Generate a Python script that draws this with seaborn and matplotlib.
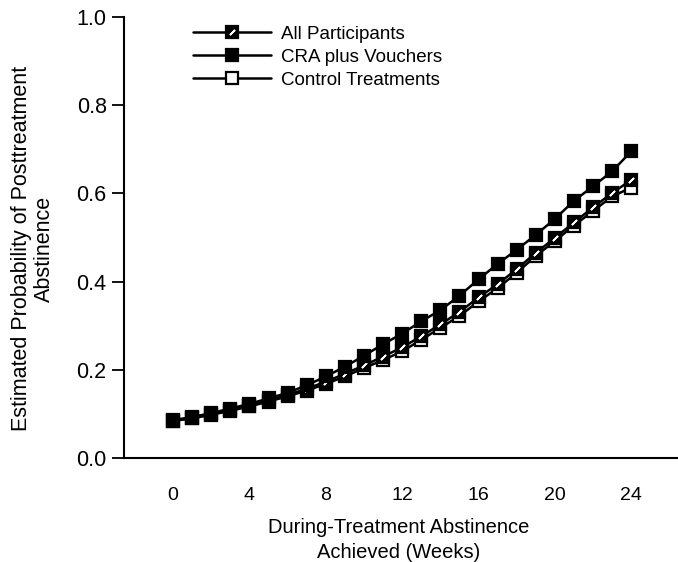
import numpy as np
import pandas as pd
import seaborn as sns
import matplotlib.pyplot as plt
from matplotlib.lines import Line2D

# weeks of during-treatment abstinence
weeks = list(range(0, 25))

# estimated probability of posttreatment abstinence
cra_vouchers = [0.086, 0.093, 0.102, 0.112, 0.123, 0.135, 0.148, 0.165, 0.185,
                0.207, 0.232, 0.258, 0.282, 0.310, 0.335, 0.368, 0.405, 0.440,
                0.472, 0.506, 0.542, 0.583, 0.616, 0.650, 0.695]
control = [0.084, 0.090, 0.098, 0.107, 0.117, 0.128, 0.140, 0.153, 0.168,
           0.185, 0.204, 0.222, 0.242, 0.268, 0.295, 0.322, 0.355, 0.385,
           0.420, 0.458, 0.492, 0.527, 0.560, 0.593, 0.613]
all_participants = [0.085, 0.091, 0.100, 0.109, 0.119, 0.130, 0.143, 0.157, 0.173,
                    0.191, 0.210, 0.230, 0.251, 0.276, 0.303, 0.331, 0.364, 0.394,
                    0.428, 0.465, 0.499, 0.534, 0.568, 0.601, 0.630]

labels = ["All Participants", "CRA plus Vouchers", "Control Treatments"]
xticks = [0, 4, 8, 12, 16, 20, 24]
yticks = [0.0, 0.2, 0.4, 0.6, 0.8, 1.0]

df = pd.DataFrame({"week": weeks, "cra": cra_vouchers, "ctrl": control, "all": all_participants})

sns.set_style("ticks")
plt.rcParams['font.family'] = ['Liberation Sans', 'DejaVu Sans']
plt.rcParams.update({"text.color": "black", "axes.labelcolor": "black",
                     "xtick.color": "black", "ytick.color": "black",
                     "axes.edgecolor": "black"})

fig = plt.figure(figsize=(6.78, 5.62), dpi=100)
ax = fig.add_axes([0.183, 0.185, 0.817, 0.785])

common = dict(color="black", linewidth=1.8, markersize=8.5, markeredgewidth=1.6,
              markeredgecolor="black", marker="s")

sns.lineplot(data=df, x="week", y="ctrl", ax=ax, markerfacecolor="white", zorder=3, **common)
sns.lineplot(data=df, x="week", y="all", ax=ax, markerfacecolor="black", zorder=4, **common)
# white slash inside the "all participants" squares
ax.plot(df["week"], df["all"], linestyle="none", marker=(2, 2, -45), markersize=5,
        markeredgecolor="white", markeredgewidth=1.3, zorder=5)
sns.lineplot(data=df, x="week", y="cra", ax=ax, markerfacecolor="black", zorder=6, **common)

ax.set_xlim(-2.57, 26.45)
ax.set_ylim(0, 1.0)
ax.set_xticks(xticks)
ax.set_yticks(yticks)
ax.set_yticklabels([f"{v:.1f}" for v in yticks])
ax.tick_params(axis="x", length=0, pad=21, labelsize=14)
ax.tick_params(axis="y", length=8.5, width=1.3, direction="out", pad=4, labelsize=15.5)

for side in ["top", "right"]:
    ax.spines[side].set_visible(False)
for side in ["left", "bottom"]:
    ax.spines[side].set_linewidth(1.5)

ax.set_xlabel("During-Treatment Abstinence\nAchieved (Weeks)", fontsize=14.5, linespacing=1.4)
ax.set_ylabel("Estimated Probability of Posttreatment\nAbstinence", fontsize=15.5, linespacing=1.15)
ax.yaxis.set_label_coords(-0.124, 0.474)
ax.xaxis.set_label_coords(0.495, -0.135)

h_all = Line2D([], [], color="black", lw=1.8, marker="s", markersize=8.5,
               markerfacecolor="black", markeredgecolor="black", markeredgewidth=1.6)
h_slash = Line2D([], [], linestyle="none", marker=(2, 2, -45), markersize=5,
                 markeredgecolor="white", markeredgewidth=1.3)
h_cra = Line2D([], [], color="black", lw=1.8, marker="s", markersize=8.5,
               markerfacecolor="black", markeredgecolor="black", markeredgewidth=1.6)
h_ctrl = Line2D([], [], color="black", lw=1.8, marker="s", markersize=8.5,
                markerfacecolor="white", markeredgecolor="black", markeredgewidth=1.6)
ax.legend([(h_all, h_slash), h_cra, h_ctrl], labels, loc="upper left",
          bbox_to_anchor=(0.1, 1.01), frameon=False, fontsize=13.5,
          handlelength=4.2, handletextpad=0.5, labelspacing=0.32, borderpad=0.2)

fig.savefig("out.png", dpi=100)
